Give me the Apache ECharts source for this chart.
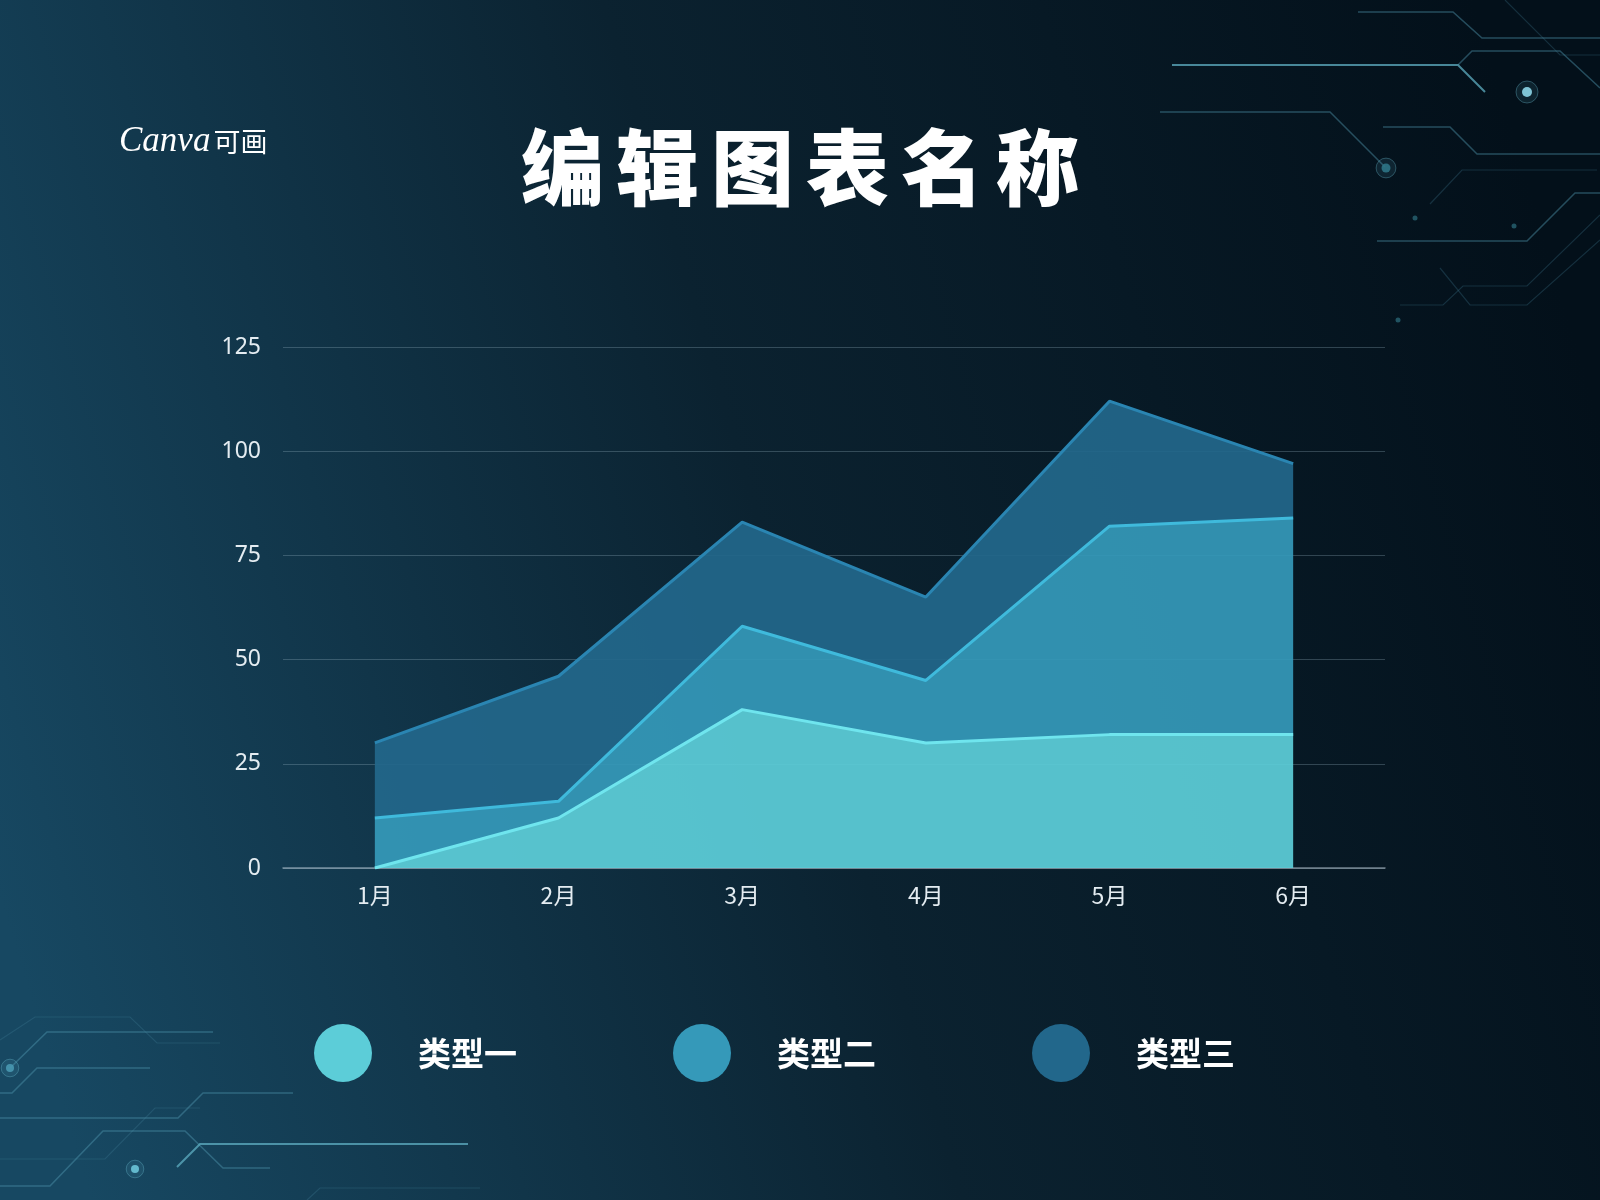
<!DOCTYPE html>
<html>
<head>
<meta charset="utf-8">
<style>
html,body{margin:0;padding:0;background:#0a1e2a;}
#chart{width:1600px;height:1200px;}
</style>
<script src="https://cdn.jsdelivr.net/npm/echarts@6/dist/echarts.min.js"></script>
</head>
<body>
<div id="chart"></div>
<script>
// ---- data ----
var categories = ['1月', '2月', '3月', '4月', '5月', '6月'];
var seriesNames = ['类型一', '类型二', '类型三'];
// stacked values (each series adds on top of the previous one)
var type1 = [0, 12, 38, 30, 32, 32];
var type2 = [12, 4, 20, 15, 50, 52];
var type3 = [18, 30, 25, 20, 30, 13];
var yTicks = { min: 0, max: 125, interval: 25 };
var titleText = '编辑图表名称';

// ---- styles ----
var fills = ['#5ccdd8', '#3599b9', '#22678b'];
var lines = ['#6fe5ee', '#3fbadc', '#2a85b2'];

var chart = echarts.init(document.getElementById('chart'), null, { renderer: 'canvas' });

function circuit(points, color, width) {
  return {
    type: 'polyline', silent: true, z: -5,
    shape: { points: points },
    style: { stroke: color, lineWidth: width || 1.5, fill: null }
  };
}
function dot(x, y, r, color, ring) {
  var els = [{
    type: 'circle', silent: true, z: -5,
    shape: { cx: x, cy: y, r: r }, style: { fill: color }
  }];
  if (ring) {
    els.push({
      type: 'circle', silent: true, z: -5,
      shape: { cx: x, cy: y, r: r * 2.2 },
      style: { fill: 'rgba(90,170,195,0.12)', stroke: 'rgba(110,190,210,0.35)', lineWidth: 1 }
    });
  }
  return els;
}

var bright = 'rgba(95,175,195,0.75)';
var mid = 'rgba(80,150,175,0.45)';
var faint = 'rgba(70,130,155,0.28)';

var decor = [
  // top right
  circuit([[1172, 65], [1458, 65], [1485, 92]], bright, 2),
  circuit([[1458, 65], [1472, 51], [1560, 51], [1600, 88]], mid, 1.5),
  circuit([[1358, 12], [1453, 12], [1482, 38], [1600, 38]], mid, 1.5),
  circuit([[1505, 0], [1560, 55], [1600, 55]], faint, 1.2),
  circuit([[1160, 112], [1330, 112], [1385, 167]], mid, 1.5),
  circuit([[1383, 127], [1450, 127], [1477, 154], [1600, 154]], mid, 1.5),
  circuit([[1377, 241], [1527, 241], [1575, 193], [1600, 193]], mid, 1.5),
  circuit([[1430, 204], [1462, 170], [1597, 170]], faint, 1.2),
  circuit([[1400, 305], [1443, 305], [1463, 286], [1527, 286], [1600, 215]], faint, 1.2),
  circuit([[1440, 268], [1470, 305], [1527, 305], [1600, 240]], faint, 1.2),
  // bottom left
  circuit([[10, 1068], [47, 1032], [213, 1032]], mid, 1.5),
  circuit([[0, 1093], [12, 1093], [37, 1068], [150, 1068]], mid, 1.5),
  circuit([[0, 1040], [35, 1017], [130, 1017], [157, 1043], [220, 1043]], faint, 1.2),
  circuit([[0, 1118], [178, 1118], [203, 1093], [293, 1093]], mid, 1.5),
  circuit([[0, 1159], [105, 1159], [155, 1108], [200, 1108]], faint, 1.2),
  circuit([[0, 1186], [50, 1186], [103, 1131], [185, 1131], [223, 1168], [270, 1168]], mid, 1.5),
  circuit([[177, 1167], [200, 1144], [468, 1144]], bright, 2),
  circuit([[307, 1200], [320, 1188], [480, 1188]], faint, 1.2)
];
decor = decor
  .concat(dot(1527, 92, 5, 'rgba(140,210,225,0.95)', true))
  .concat(dot(1386, 168, 4.5, 'rgba(40,110,125,0.9)', true))
  .concat(dot(10, 1068, 4, 'rgba(70,150,175,0.9)', true))
  .concat(dot(135, 1169, 4, 'rgba(110,200,220,0.9)', true))
  .concat(dot(1415, 218, 2.5, 'rgba(40,100,115,0.8)', false))
  .concat(dot(1514, 226, 2.5, 'rgba(40,100,115,0.8)', false))
  .concat(dot(1398, 320, 2.5, 'rgba(40,100,115,0.8)', false));

var option = {
  backgroundColor: 'transparent',
  animation: false,
  title: {
    left: 'center',
    top: 126,
    padding: 0,
    text: titleText.split('').map(function (c) { return '{c|' + c + '}'; }).join(''),
    textStyle: {
      rich: {
        c: {
          fontSize: 83, fontWeight: 900, color: '#ffffff',
          fontFamily: 'Noto Sans CJK SC', padding: [0, 6]
        }
      }
    }
  },
  graphic: [
    {
      type: 'rect', silent: true, z: -10, left: 0, top: 0,
      shape: { x: 0, y: 0, width: 1600, height: 1200 },
      style: {
        fill: new echarts.graphic.LinearGradient(0, 0.75, 1, 0.35, [
          { offset: 0, color: '#174862' },
          { offset: 0.5, color: '#0b2230' },
          { offset: 1, color: '#03101a' }
        ])
      }
    },
    {
      type: 'text', silent: true, z: 5, left: 119, top: 124,
      style: {
        text: '{a|Canva}{b|可画}',
        rich: {
          a: { fontFamily: 'Liberation Serif', fontStyle: 'italic', fontSize: 35, fill: '#ffffff', fontWeight: 'normal' },
          b: { fontFamily: 'Noto Sans CJK SC', fontSize: 27, fill: '#ffffff', fontWeight: 'normal', padding: [0, 0, 0, 3] }
        }
      }
    }
  ].concat(decor),
  legend: {
    left: 309,
    top: 1019,
    icon: 'circle',
    itemWidth: 58,
    itemHeight: 58,
    itemGap: 156,
    data: seriesNames,
    textStyle: {
      color: '#ffffff', fontSize: 33, fontWeight: 'bold',
      fontFamily: 'Noto Sans CJK SC', padding: [0, 0, 0, 41]
    }
  },
  grid: { left: 283, right: 215, top: 347, bottom: 332, containLabel: false },
  xAxis: {
    type: 'category',
    data: categories,
    boundaryGap: true,
    axisLine: { lineStyle: { color: 'rgba(200,215,225,0.55)', width: 1.5 } },
    axisTick: { show: false },
    axisLabel: { color: '#e4ecf1', fontSize: 23, margin: 16, fontFamily: 'Noto Sans CJK SC' }
  },
  yAxis: {
    type: 'value',
    min: yTicks.min, max: yTicks.max, interval: yTicks.interval,
    axisLine: { show: false },
    axisTick: { show: false },
    axisLabel: { color: '#e4ecf1', fontSize: 23, margin: 22, fontFamily: 'Noto Sans' },
    splitLine: { lineStyle: { color: 'rgba(160,190,205,0.28)', width: 1.2 } }
  },
  series: [type1, type2, type3].map(function (vals, i) {
    return {
      name: seriesNames[i],
      type: 'line',
      stack: 'total',
      data: vals,
      symbol: 'none',
      z: 3 - i,
      lineStyle: { color: lines[i], width: 3 },
      itemStyle: { color: fills[i] },
      areaStyle: { color: fills[i], opacity: 0.93 }
    };
  })
};
chart.setOption(option);
</script>
</body>
</html>
